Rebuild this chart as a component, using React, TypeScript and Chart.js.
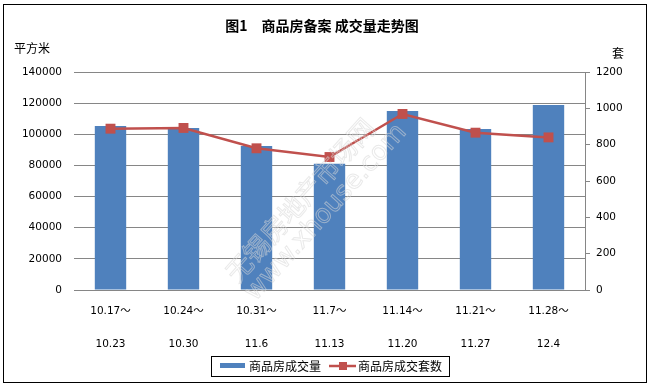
import React, { useEffect, useRef } from 'react';
import { Chart, registerables } from 'chart.js';

Chart.register(...registerables);

const periodStart = ['10.17～', '10.24～', '10.31～', '11.7～', '11.14～', '11.21～', '11.28～'];
const periodEnd = ['10.23', '10.30', '11.6', '11.13', '11.20', '11.27', '12.4'];
const areaSold = [105300, 104000, 92500, 81000, 115000, 103400, 118800];
const unitsSold = [888, 892, 780, 732, 969, 866, 840];
const areaLabel = '商品房成交量';
const unitsLabel = '商品房成交套数';
const chartTitle = '图1\u3000商品房备案 成交量走势图';
const leftUnit = '平方米';
const rightUnit = '套';
const watermark1 = '无锡房地产市场网';
const watermark2 = 'www.xhouse.com';

const BAR_COLOR = '#4F81BD';
const LINE_COLOR = '#C0504D';
const GRID_COLOR = '#868686';
const TICK_FONT = "'DejaVu Sans', 'Noto Sans CJK SC', sans-serif";
const CJK_FONT = "'Noto Sans CJK SC', 'DejaVu Sans', sans-serif";

const decorPlugin = {
  id: 'decor',
  beforeDraw(chart: any) {
    const ctx = chart.ctx;
    ctx.save();
    ctx.fillStyle = '#ffffff';
    ctx.fillRect(0, 0, chart.width, chart.height);
    ctx.restore();
  },
  afterDatasetsDraw(chart: any) {
    const ctx = chart.ctx;
    ctx.save();
    ctx.translate(300, 200);
    ctx.rotate(-0.84);
    ctx.font = `26px ${CJK_FONT}`;
    ctx.textAlign = 'center';
    ctx.textBaseline = 'middle';
    ctx.strokeStyle = 'rgba(215,215,215,0.55)';
    ctx.lineWidth = 1;
    ctx.strokeText(watermark1, 0, 0);
    ctx.font = `26px 'DejaVu Sans', sans-serif`;
    ctx.strokeText(watermark2, 8, 28);
    ctx.restore();
  },
  afterDraw(chart: any) {
    const ctx = chart.ctx;
    ctx.save();
    ctx.strokeStyle = '#000';
    ctx.lineWidth = 1;
    ctx.strokeRect(3.5, 4.5, 643, 378);
    ctx.fillStyle = '#000';
    ctx.font = `bold 14px ${CJK_FONT}`;
    ctx.textAlign = 'center';
    ctx.textBaseline = 'middle';
    ctx.fillText(chartTitle, 322, 26);
    ctx.font = `12px ${CJK_FONT}`;
    ctx.textAlign = 'left';
    ctx.fillText(leftUnit, 14, 48);
    ctx.fillText(rightUnit, 612, 53);
    ctx.strokeStyle = '#000';
    ctx.strokeRect(211.5, 356.5, 238, 20);
    ctx.fillStyle = BAR_COLOR;
    ctx.fillRect(220, 363, 25, 5);
    ctx.fillStyle = '#000';
    ctx.textBaseline = 'middle';
    ctx.fillText(areaLabel, 249, 366);
    ctx.strokeStyle = LINE_COLOR;
    ctx.lineWidth = 2.5;
    ctx.beginPath();
    ctx.moveTo(329, 366);
    ctx.lineTo(356, 366);
    ctx.stroke();
    ctx.fillStyle = LINE_COLOR;
    ctx.fillRect(339, 362, 8, 8);
    ctx.fillStyle = '#000';
    ctx.fillText(unitsLabel, 358, 366);
    ctx.restore();
  },
};

const plainNumber = (v: any) => String(v);

export default function App() {
  const canvasRef = useRef<HTMLCanvasElement | null>(null);

  useEffect(() => {
    const canvas = canvasRef.current;
    if (!canvas) return;
    const labels = periodStart.map((s, i) => [s, periodEnd[i]]);
    const chart = new Chart(canvas, {
      type: 'bar',
      data: {
        labels,
        datasets: [
          {
            type: 'line',
            label: unitsLabel,
            data: unitsSold,
            yAxisID: 'y1',
            borderColor: LINE_COLOR,
            backgroundColor: LINE_COLOR,
            borderWidth: 2.5,
            pointStyle: 'rect',
            pointRadius: 7,
            pointBorderWidth: 0,
            tension: 0,
            order: 0,
          } as any,
          {
            type: 'bar',
            label: areaLabel,
            data: areaSold,
            yAxisID: 'y',
            backgroundColor: BAR_COLOR,
            borderWidth: 0,
            categoryPercentage: 1,
            barPercentage: 0.43,
            order: 1,
          } as any,
        ],
      },
      options: {
        responsive: false,
        animation: false,
        devicePixelRatio: 1,
        layout: { padding: { top: 72, left: 0, right: 0, bottom: 0 } },
        plugins: {
          legend: { display: false },
          title: { display: false },
          tooltip: { enabled: false },
        },
        scales: {
          x: {
            offset: true,
            grid: { display: false, drawTicks: false },
            border: { display: true, color: GRID_COLOR, width: 1 },
            ticks: {
              color: '#000',
              padding: 4,
              maxRotation: 0,
              autoSkip: false,
              font: { family: TICK_FONT, size: 10.5, lineHeight: 3.2 },
            },
            afterFit(scale: any) {
              scale.height = 97;
            },
          },
          y: {
            position: 'left',
            min: 0,
            max: 140000,
            ticks: {
              stepSize: 20000,
              color: '#000',
              padding: 12,
              callback: plainNumber,
              font: { family: TICK_FONT, size: 10.5 },
            },
            grid: { color: GRID_COLOR, lineWidth: 1, drawTicks: false },
            border: { display: false },
            afterFit(scale: any) {
              scale.width = 74;
            },
          },
          y1: {
            position: 'right',
            min: 0,
            max: 1200,
            ticks: {
              stepSize: 200,
              color: '#000',
              padding: 6,
              callback: plainNumber,
              font: { family: TICK_FONT, size: 10.5 },
            },
            grid: { color: GRID_COLOR, drawOnChartArea: false, drawTicks: true, tickLength: 5 },
            border: { display: true, color: GRID_COLOR, width: 1 },
            afterFit(scale: any) {
              scale.width = 64;
            },
          },
        },
      },
      plugins: [decorPlugin],
    });
    return () => chart.destroy();
  }, []);

  return (
    <div style={{ position: 'absolute', left: 0, top: 0, width: 649, height: 387 }}>
      <canvas ref={canvasRef} width={649} height={387} style={{ width: 649, height: 387, display: 'block' }} />
    </div>
  );
}
